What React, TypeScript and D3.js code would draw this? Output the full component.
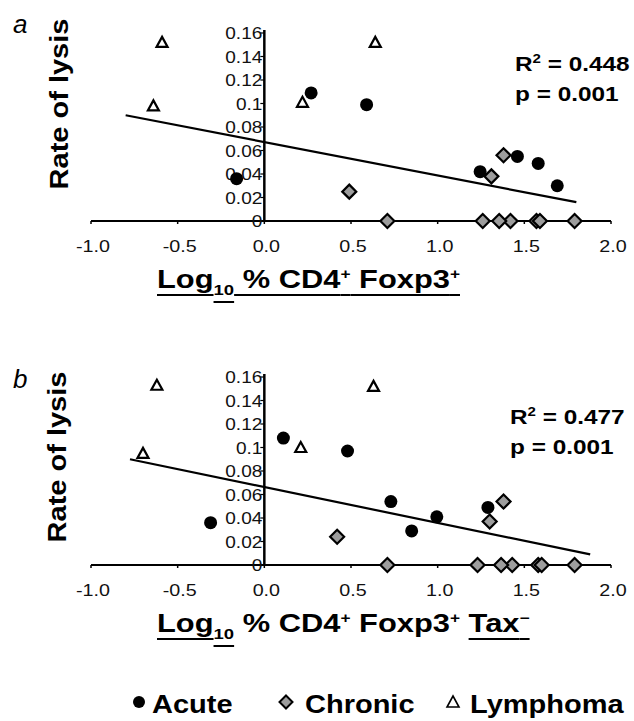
import React, { useLayoutEffect, useRef, useState } from "react";
import * as d3 from "d3";

// axis ticks
const xTicks = [-1, -0.5, 0, 0.5, 1, 1.5, 2];
const xTickLabels = ["-1.0", "-0.5", "0.0", "0.5", "1.0", "1.5", "2.0"];
const yTicks = [0, 0.02, 0.04, 0.06, 0.08, 0.1, 0.12, 0.14, 0.16];
const yTickLabels = ["0", "0.02", "0.04", "0.06", "0.08", "0.1", "0.12", "0.14", "0.16"];

// panel a : log10 % CD4+ Foxp3+ vs rate of lysis
const acuteA = [[-0.16, 0.036], [0.27, 0.109], [0.59, 0.099], [1.245, 0.042], [1.46, 0.055], [1.58, 0.049], [1.69, 0.03]];
const chronicA = [[0.49, 0.025], [1.38, 0.056], [1.31, 0.038], [0.71, 0], [1.26, 0], [1.42, 0], [1.355, 0], [1.57, 0], [1.59, 0], [1.79, 0]];
const lymphomaA = [[-0.59, 0.152], [-0.64, 0.098], [0.22, 0.101], [0.64, 0.152]];
const trendA = [[-0.8, 0.09], [1.8, 0.016]];

// panel b : log10 % CD4+ Foxp3+ Tax- vs rate of lysis
const acuteB = [[-0.31, 0.036], [0.11, 0.108], [0.48, 0.097], [0.73, 0.054], [0.85, 0.029], [0.995, 0.041], [1.29, 0.049]];
const chronicB = [[0.42, 0.024], [1.38, 0.054], [1.3, 0.037], [0.71, 0], [1.23, 0], [1.43, 0], [1.366, 0], [1.58, 0], [1.6, 0], [1.79, 0]];
const lymphomaB = [[-0.62, 0.153], [-0.7, 0.095], [0.21, 0.1], [0.63, 0.152]];
const trendB = [[-0.775, 0.09], [1.88, 0.009]];

const FONT = "'Liberation Sans', Arial, Helvetica, sans-serif";
const DIAMOND_FILL = "#9d9d9d";

type Run = { t: string; k?: "sub" | "sup"; u?: boolean };

const titleA: Run[] = [
  { t: "Log", u: true }, { t: "10", k: "sub", u: true }, { t: " % CD4", u: true },
  { t: "+", k: "sup", u: true }, { t: " Foxp3", u: true }, { t: "+", k: "sup", u: true },
];
const titleB: Run[] = [
  { t: "Log", u: true }, { t: "10", k: "sub", u: true }, { t: " % CD4" },
  { t: "+", k: "sup" }, { t: " Foxp3" }, { t: "+", k: "sup" }, { t: " " },
  { t: "Tax", u: true }, { t: "\u2212", k: "sup", u: true },
];

const x = d3.scaleLinear().domain([-1, 2]).range([91, 611]);

const diamondPath = (h: number) => `M0,${-h}L${h},0L0,${h}L${-h},0Z`;
const trianglePath = (w: number, h: number) => `M0,${-h / 2 - 1}L${w / 2},${h / 2}L${-w / 2},${h / 2}Z`;

function Title({ x0, y0, runs, sx, size }: { x0: number; y0: number; runs: Run[]; sx: number; size: number }) {
  const ref = useRef<SVGTextElement>(null);
  const [lines, setLines] = useState<{ x1: number; x2: number; y: number }[]>([]);
  useLayoutEffect(() => {
    const el = ref.current;
    if (!el) return;
    const out: { x1: number; x2: number; y: number }[] = [];
    let idx = 0;
    runs.forEach((r) => {
      const n = r.t.length;
      if (r.u) {
        const s = el.getStartPositionOfChar(idx);
        const e = el.getEndPositionOfChar(idx + n - 1);
        out.push({ x1: s.x, x2: e.x, y: r.k === "sub" ? 14 : 7 });
      }
      idx += n;
    });
    setLines(out);
  }, [runs]);

  let shift = 0;
  return (
    <g transform={`translate(${x0},${y0}) scale(${sx},1)`}>
      <text ref={ref} x={0} y={0} fontFamily={FONT} fontWeight="bold" fontSize={size} style={{ whiteSpace: "pre" }}>
        {runs.map((r, i) => {
          const target = r.k === "sub" ? 7 : r.k === "sup" ? -9 : 0;
          const dy = target - shift;
          shift = target;
          const fs = r.k === "sub" ? size * 0.6 : r.k === "sup" ? size * 0.56 : size;
          return (
            <tspan key={i} dy={dy} fontSize={fs}>
              {r.t}
            </tspan>
          );
        })}
      </text>
      {lines.map((l, i) => (
        <line key={i} x1={l.x1} x2={l.x2} y1={l.y} y2={l.y} stroke="#000" strokeWidth={2} />
      ))}
    </g>
  );
}

function Panel(props: {
  letter: string;
  letterY: number;
  labelX: number;
  labelY: number;
  yRange: [number, number];
  acute: number[][];
  chronic: number[][];
  lymphoma: number[][];
  trend: number[][];
  r2: string;
  statsX: number;
  statsY: number;
  title: Run[];
}) {
  const { letter, letterY, labelX, labelY, yRange, acute, chronic, lymphoma, trend, r2, statsX, statsY, title } = props;
  const y = d3.scaleLinear().domain([0, 0.16]).range(yRange);
  const x0 = x(0);
  const y0 = y(0);
  const line = d3.line<number[]>().x((d) => x(d[0])).y((d) => y(d[1]));

  return (
    <g>
      <text x={13} y={letterY} fontFamily={FONT} fontStyle="italic" fontSize={26}>{letter}</text>
      <g transform={`translate(${labelX},${labelY}) rotate(-90) scale(1.16,1)`}>
        <text textAnchor="middle" fontFamily={FONT} fontWeight="bold" fontSize={25}>Rate of lysis</text>
      </g>

      {/* axes */}
      <line x1={x(-1)} x2={x(2)} y1={y0} y2={y0} stroke="#000" strokeWidth={2} />
      {xTicks.map((t) => (
        <line key={t} x1={x(t)} x2={x(t)} y1={y0} y2={y0 + 3} stroke="#000" strokeWidth={1.5} />
      ))}
      <line x1={x0} x2={x0} y1={y0} y2={y(0.16) - 3} stroke="#000" strokeWidth={2.5} />
      {yTicks.map((t) => (
        <line key={t} x1={x0 - 4} x2={x0} y1={y(t)} y2={y(t)} stroke="#000" strokeWidth={1.2} />
      ))}
      {yTicks.map((t, i) => (
        <g key={t} transform={`translate(${x0 - 2},${y(t) + 6}) scale(1.12,1)`}>
          <text textAnchor="end" fontFamily={FONT} fontSize={17} fill="#111">{yTickLabels[i]}</text>
        </g>
      ))}
      {xTicks.map((t, i) => (
        <g key={t} transform={`translate(${x(t) + 2},${y0 + 31}) scale(1.16,1)`}>
          <text textAnchor="middle" fontFamily={FONT} fontSize={17} fill="#111">{xTickLabels[i]}</text>
        </g>
      ))}

      {/* marks */}
      {acute.map((d, i) => (
        <circle key={i} cx={x(d[0])} cy={y(d[1])} r={6.5} fill="#000" />
      ))}
      {chronic.map((d, i) => (
        <path key={i} d={diamondPath(7)} transform={`translate(${x(d[0])},${y(d[1])})`} fill={DIAMOND_FILL} stroke="#000" strokeWidth={2.2} />
      ))}
      {lymphoma.map((d, i) => (
        <path key={i} d={trianglePath(11, 9)} transform={`translate(${x(d[0])},${y(d[1])})`} fill="#fff" stroke="#000" strokeWidth={2.2} strokeLinejoin="miter" />
      ))}
      <path d={line(trend) || ""} fill="none" stroke="#000" strokeWidth={2.2} />

      {/* stats */}
      <g transform={`translate(${statsX},${statsY}) scale(1.16,1)`} fontFamily={FONT} fontWeight="bold" fontSize={21}>
        <text>
          R<tspan fontSize={13} dy={-8}>2</tspan>
          <tspan dy={8}>{` = ${r2}`}</tspan>
        </text>
        <text y={30}>p = 0.001</text>
      </g>

      <Title x0={157} y0={y0 + 67} runs={title} sx={1.21} size={25.5} />
    </g>
  );
}

export default function App() {
  return (
    <svg width={634} height={721} style={{ position: "absolute", left: 0, top: 0, background: "#fff" }}>
      <rect width={634} height={721} fill="#fff" />
      <Panel letter="a" letterY={33} labelX={68} labelY={104} yRange={[221, 33]} acute={acuteA} chronic={chronicA}
        lymphoma={lymphomaA} trend={trendA} r2="0.448" statsX={515} statsY={71} title={titleA} />
      <Panel letter="b" letterY={388} labelX={66} labelY={457} yRange={[565, 377]} acute={acuteB} chronic={chronicB}
        lymphoma={lymphomaB} trend={trendB} r2="0.477" statsX={510} statsY={424} title={titleB} />

      {/* legend */}
      <circle cx={139} cy={702} r={6} fill="#000" />
      <g transform="translate(152,713) scale(1.16,1)">
        <text fontFamily={FONT} fontWeight="bold" fontSize={25}>Acute</text>
      </g>
      <path d={diamondPath(6.5)} transform="translate(286,702)" fill={DIAMOND_FILL} stroke="#000" strokeWidth={2} />
      <g transform="translate(305,713) scale(1.16,1)">
        <text fontFamily={FONT} fontWeight="bold" fontSize={25}>Chronic</text>
      </g>
      <path d={trianglePath(12, 10)} transform="translate(453,702)" fill="#fff" stroke="#000" strokeWidth={1.6} />
      <g transform="translate(470,713) scale(1.16,1)">
        <text fontFamily={FONT} fontWeight="bold" fontSize={25}>Lymphoma</text>
      </g>
    </svg>
  );
}
